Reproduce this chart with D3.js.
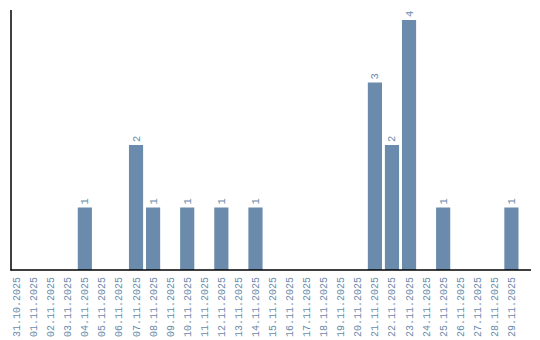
<!DOCTYPE html>
<html><head><meta charset="utf-8">
<script src="https://cdn.jsdelivr.net/npm/d3@7"></script>
<style>body{margin:0;background:#fff}svg{display:block}</style>
</head><body><svg id="c" width="540" height="340"></svg>
<script>
const dates = ["31.10.2025","01.11.2025","02.11.2025","03.11.2025","04.11.2025","05.11.2025","06.11.2025","07.11.2025","08.11.2025","09.11.2025","10.11.2025","11.11.2025","12.11.2025","13.11.2025","14.11.2025","15.11.2025","16.11.2025","17.11.2025","18.11.2025","19.11.2025","20.11.2025","21.11.2025","22.11.2025","23.11.2025","24.11.2025","25.11.2025","26.11.2025","27.11.2025","28.11.2025","29.11.2025"];
const counts = [0,0,0,0,1,0,0,2,1,0,1,0,1,0,1,0,0,0,0,0,0,3,2,4,0,1,0,0,0,1];

const svg = d3.select("#c");
const color = "#6a8bab";
const x = d3.scaleBand().domain(dates).range([9.5, 518.5]).paddingInner(0.17).paddingOuter(0);
const y = d3.scaleLinear().domain([0, 4]).range([270, 20]);

svg.selectAll("rect.bar").data(dates).enter().append("rect")
  .attr("x", d => x(d)).attr("width", x.bandwidth())
  .attr("y", (d,i) => y(counts[i])).attr("height", (d,i) => y(0) - y(counts[i]))
  .attr("fill", color);

svg.selectAll("text.val").data(dates.filter((d,i)=>counts[i]>0)).enter().append("text")
  .attr("transform", d => `translate(${x(d)+x.bandwidth()/2+3.5},${y(counts[dates.indexOf(d)])-3}) rotate(-90)`)
  .attr("font-family","'Liberation Mono', monospace").attr("font-size", 10.5)
  .attr("fill", color).text(d => counts[dates.indexOf(d)]);

// axes
svg.append("line").attr("x1",11).attr("x2",11).attr("y1",10).attr("y2",270.5).attr("stroke","#000").attr("stroke-width",1.5);
svg.append("line").attr("x1",10.5).attr("x2",531).attr("y1",270).attr("y2",270).attr("stroke","#000").attr("stroke-width",1.5);

svg.selectAll("text.tick").data(dates).enter().append("text")
  .attr("transform", d => `translate(${x(d)+x.bandwidth()/2+3.5},277) rotate(-90)`)
  .attr("text-anchor","end")
  .attr("font-family","'Liberation Mono', monospace").attr("font-size", 10)
  .attr("fill", color).text(d => d);
</script></body></html>
